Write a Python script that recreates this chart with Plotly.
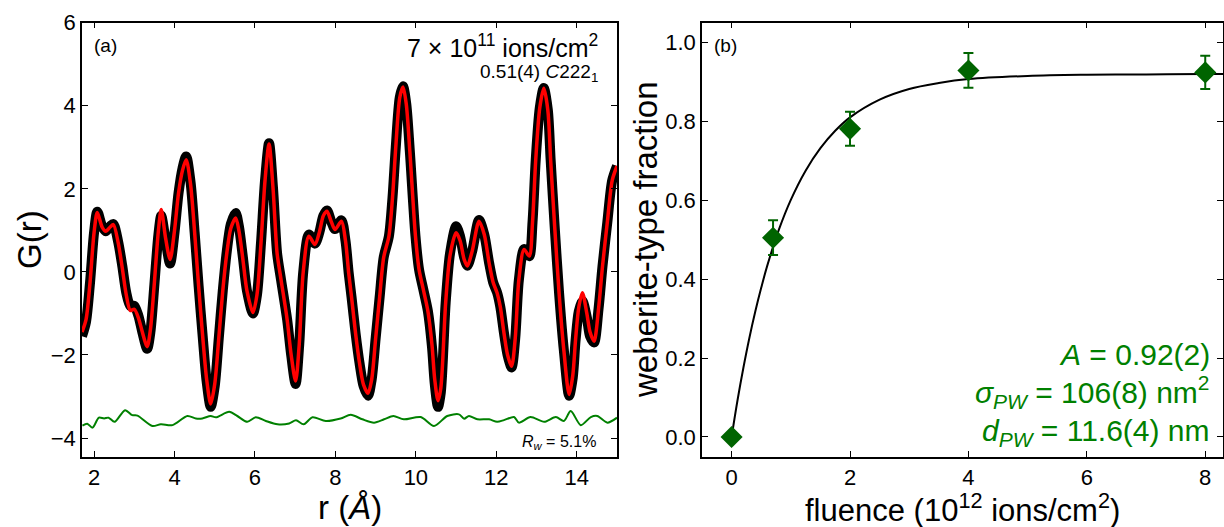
import plotly.graph_objects as go

# ---------------- Panel (a): PDF G(r) ----------------
r_vals = [1.70, 1.80, 1.90, 2.00, 2.08, 2.20, 2.29, 2.40, 2.48, 2.60, 2.70, 2.80, 2.90, 3.00, 3.10,
          3.20, 3.32, 3.40, 3.50, 3.60, 3.67, 3.78, 3.89, 4.00, 4.10, 4.20, 4.29, 4.40, 4.50, 4.60,
          4.70, 4.80, 4.90, 5.00, 5.10, 5.20, 5.30, 5.40, 5.52, 5.60, 5.70, 5.80, 5.95, 6.05, 6.15,
          6.25, 6.35, 6.45, 6.55, 6.65, 6.80, 6.90, 7.01, 7.10, 7.20, 7.34, 7.49, 7.60, 7.70, 7.79,
          7.90, 7.99, 8.15, 8.25, 8.33, 8.40, 8.50, 8.60, 8.70, 8.81, 8.90, 9.00, 9.10, 9.20, 9.33,
          9.42, 9.50, 9.60, 9.68, 9.76, 9.85, 9.99, 10.08, 10.18, 10.30, 10.40, 10.47, 10.55, 10.62, 10.74,
          10.85, 11.00, 11.10, 11.20, 11.28, 11.40, 11.57, 11.70, 11.82, 11.92, 12.02, 12.10, 12.19, 12.28, 12.38,
          12.47, 12.56, 12.69, 12.82, 12.90, 12.98, 13.08, 13.18, 13.28, 13.35, 13.45, 13.56, 13.68, 13.81, 13.90,
          13.97, 14.05, 14.14, 14.25, 14.33, 14.43, 14.54, 14.64, 14.76, 14.88, 15.00]

G_obs = [-1.55, -1.20, -0.25, 0.95, 1.45, 1.10, 0.98, 1.10, 1.15, 0.72, 0.15, -0.50, -0.82, -0.82, -1.05,
         -1.45, -1.85, -1.45, -0.30, 0.90, 1.35, 0.75, 0.20, 0.95, 1.90, 2.50, 2.78, 2.15, 0.95, -0.35,
         -1.55, -2.65, -3.25, -2.75, -1.60, -0.45, 0.50, 1.15, 1.42, 1.10, 0.35, -0.45, -1.00, -0.55, 0.70,
         2.20, 3.10, 2.00, 0.45, -0.20, -1.15, -2.00, -2.70, -1.75, 0.00, 0.90, 0.68, 0.95, 1.35, 1.48,
         1.20, 1.03, 1.24, 0.75, -0.03, -0.60, -1.47, -2.20, -2.75, -2.98, -2.60, -1.60, -0.60, 0.35, 0.86,
         1.80, 3.00, 4.20, 4.47, 4.05, 2.90, 0.86, 0.05, -0.40, -0.95, -1.80, -2.70, -3.25, -2.90, -0.75,
         0.45, 1.10, 0.85, 0.35, 0.15, 0.50, 1.25, 0.90, 0.22, -0.25, -0.50, -0.85, -1.47, -2.00, -2.30,
         -1.60, -0.20, 0.55, 0.38, 1.20, 2.70, 3.95, 4.43, 3.90, 2.70, 1.10, -0.51, -1.90, -2.98, -2.55,
         -1.65, -0.95, -0.70, -1.10, -1.55, -1.70, -0.90, 0.14, 1.20, 2.20, 2.55]

G_fit = [-1.45, -1.15, -0.25, 0.95, 1.43, 1.08, 0.98, 1.08, 1.14, 0.70, 0.10, -0.55, -0.93, -0.90, -1.10,
         -1.45, -1.80, -1.40, -0.25, 1.00, 1.50, 0.80, 0.30, 1.00, 1.90, 2.45, 2.70, 2.10, 0.95, -0.35,
         -1.55, -2.60, -3.18, -2.70, -1.60, -0.45, 0.45, 1.05, 1.30, 1.00, 0.30, -0.45, -0.98, -0.55, 0.70,
         2.20, 3.08, 2.00, 0.45, -0.20, -1.15, -2.00, -2.63, -1.75, 0.00, 0.86, 0.66, 0.95, 1.35, 1.46,
         1.20, 1.02, 1.22, 0.75, -0.03, -0.60, -1.47, -2.20, -2.72, -2.92, -2.60, -1.60, -0.60, 0.35, 0.86,
         1.80, 3.00, 4.20, 4.45, 4.05, 2.90, 0.86, 0.05, -0.40, -0.95, -1.75, -2.60, -3.10, -2.80, -0.75,
         0.40, 0.94, 0.75, 0.30, 0.14, 0.50, 1.22, 0.90, 0.22, -0.25, -0.51, -0.85, -1.47, -2.00, -2.27,
         -1.60, -0.19, 0.54, 0.38, 1.20, 2.70, 3.95, 4.42, 3.90, 2.70, 1.10, -0.51, -1.90, -2.95, -2.50,
         -1.63, -0.85, -0.50, -1.00, -1.45, -1.67, -0.90, 0.14, 1.20, 2.20, 2.55]

r_diff = [1.71, 1.83, 1.96, 2.12, 2.25, 2.36, 2.51, 2.77, 2.95, 3.08, 3.45, 3.66, 3.95, 4.32, 4.53,
          4.69, 4.90, 5.03, 5.36, 5.56, 5.81, 6.02, 6.27, 6.56, 6.85, 7.02, 7.21, 7.43, 7.76, 8.13,
          8.38, 8.67, 8.96, 9.21, 9.44, 9.70, 10.12, 10.45, 10.78, 11.07, 11.20, 11.32, 11.53, 11.82, 12.02,
          12.19, 12.44, 12.56, 12.85, 13.19, 13.48, 13.68, 13.85, 14.10, 14.35, 14.51, 14.76, 15.00]
G_diff = [-3.70, -3.655, -3.75, -3.51, -3.53, -3.51, -3.61, -3.33, -3.45, -3.46, -3.71, -3.67, -3.69, -3.47, -3.53,
          -3.53, -3.47, -3.50, -3.37, -3.47, -3.61, -3.50, -3.59, -3.67, -3.65, -3.575, -3.67, -3.50, -3.59, -3.53,
          -3.44, -3.55, -3.63, -3.55, -3.47, -3.55, -3.495, -3.71, -3.47, -3.43, -3.535, -3.47, -3.55, -3.55, -3.61,
          -3.57, -3.495, -3.63, -3.495, -3.61, -3.495, -3.59, -3.35, -3.69, -3.495, -3.47, -3.63, -3.51]

# ---------------- Panel (b): weberite-type fraction ----------------
fluence = [0, 0.7, 2, 4, 8]
fraction = [0.0, 0.505, 0.781, 0.929, 0.924]
fraction_err = [0.0, 0.044, 0.043, 0.044, 0.042]

fit_fluence = [0, 0.1, 0.2, 0.3, 0.4, 0.5, 0.6, 0.8, 1.0, 1.25, 1.5, 1.75, 2.0, 2.5, 3.0, 3.5, 4.0, 5.0, 6.0, 7.0, 8.0, 8.3]
fit_fraction = [0.0, 0.093, 0.176, 0.251, 0.318, 0.378, 0.433, 0.526, 0.601, 0.675, 0.732, 0.776, 0.810,
                0.855, 0.882, 0.897, 0.907, 0.915, 0.918, 0.919, 0.920, 0.920]

W, H = 1224, 527
FONT = "Liberation Sans, Arial, sans-serif"
DATA_GREEN = "#008000"
MARK_GREEN = "#006400"


def px(x):
    return x / W


def py(y):
    return 1 - y / H


fig = go.Figure()

fig.add_trace(go.Scatter(x=r_vals, y=G_obs, mode="lines", line=dict(color="black", width=10, shape="spline", smoothing=0.8),
                         xaxis="x", yaxis="y", showlegend=False))
fig.add_trace(go.Scatter(x=r_vals, y=G_fit, mode="lines", line=dict(color="#ff0000", width=3.5, shape="spline", smoothing=0.8),
                         xaxis="x", yaxis="y", showlegend=False))
fig.add_trace(go.Scatter(x=r_diff, y=G_diff, mode="lines", line=dict(color=DATA_GREEN, width=2, shape="spline", smoothing=0.8),
                         xaxis="x", yaxis="y", showlegend=False))

fig.add_trace(go.Scatter(x=fit_fluence, y=fit_fraction, mode="lines", line=dict(color="black", width=2, shape="spline"),
                         xaxis="x2", yaxis="y2", showlegend=False))
fig.add_trace(go.Scatter(x=fluence, y=fraction, mode="markers",
                         marker=dict(symbol="diamond", size=17, color=MARK_GREEN),
                         error_y=dict(type="data", array=fraction_err, color=MARK_GREEN, thickness=2, width=5),
                         xaxis="x2", yaxis="y2", showlegend=False))

axis_common = dict(showline=True, linecolor="black", linewidth=1.5, mirror="ticks", ticks="inside",
                   ticklen=6, tickwidth=1, tickcolor="black", showgrid=False, zeroline=False,
                   tickfont=dict(family=FONT, size=22, color="black"), automargin=False)

fig.update_layout(
    width=W, height=H,
    margin=dict(l=0, r=0, t=0, b=0),
    paper_bgcolor="white", plot_bgcolor="white",
    font=dict(family=FONT, color="black"),
    xaxis=dict(domain=[px(82), px(617)], range=[1.7, 15], tickvals=[2, 4, 6, 8, 10, 12, 14], anchor="y", **axis_common),
    yaxis=dict(domain=[py(456.7), py(22.7)], range=[-4.45, 6], tickvals=[-4, -2, 0, 2, 4, 6], anchor="x", **axis_common),
    xaxis2=dict(domain=[px(702), px(1223)], range=[-0.5, 8.3], tickvals=[0, 2, 4, 6, 8], anchor="y2", **axis_common),
    yaxis2=dict(domain=[py(456.7), py(22.7)], range=[-0.05, 1.05], tickvals=[0, 0.2, 0.4, 0.6, 0.8, 1.0],
                tickformat=".1f", anchor="x2", **axis_common),
)

ann = []


def add(text, x, y, size, xanchor="center", yanchor="middle", color="black", angle=0):
    ann.append(dict(text=text, x=px(x), y=py(y), xref="paper", yref="paper", showarrow=False,
                    xanchor=xanchor, yanchor=yanchor, textangle=angle,
                    font=dict(family=FONT, size=size, color=color)))


# axis titles
add("G(r)", 30, 240, 33, angle=-90)
add("r (<i>Å</i>)", 350, 507, 33)
add("weberite-type fraction", 646, 240, 33, angle=-90)
add("fluence (10<sup>12</sup> ions/cm<sup>2</sup>)", 962, 508, 31)

# panel (a) labels
add("(a)", 92, 45, 19, xanchor="left")
add("7 × 10<sup>11</sup> ions/cm<sup>2</sup>", 600, 46, 25, xanchor="right")
add("0.51(4) <i>C</i>222<sub>1</sub>", 600, 73, 19, xanchor="right")
add("<i>R</i><sub><i>w</i></sub> = 5.1%", 598, 442, 16, xanchor="right")

# panel (b) labels
add("(b)", 712, 45, 19, xanchor="left")
add("<i>A</i> = 0.92(2)", 1212, 354, 30, xanchor="right", color=DATA_GREEN)
add("<i>σ<sub>PW</sub></i> = 106(8) nm<sup>2</sup>", 1212, 392, 30, xanchor="right", color=DATA_GREEN)
add("<i>d<sub>PW</sub></i> = 11.6(4) nm", 1212, 432, 30, xanchor="right", color=DATA_GREEN)

fig.update_layout(annotations=ann)

fig.write_html("out.html")
